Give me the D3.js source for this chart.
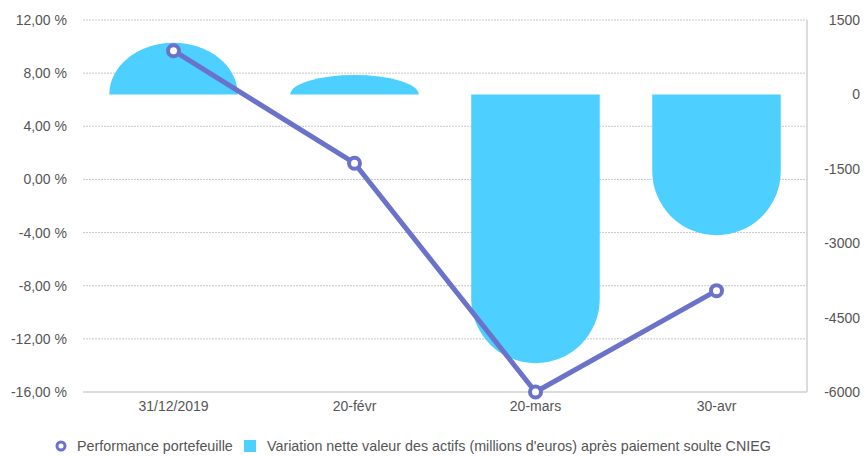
<!DOCTYPE html>
<html>
<head>
<meta charset="utf-8">
<script src="https://cdn.jsdelivr.net/npm/d3@7"></script>
<style>
  body { margin: 0; background: #fff; }
  svg { display: block; font-family: "Liberation Sans", Arial, sans-serif; }
</style>
</head>
<body>
<svg id="chart" width="865" height="456"></svg>
<script>
const categories = ["31/12/2019", "20-févr", "20-mars", "30-avr"];
const performance = [9.69, 1.22, -16.0, -8.37];          // %
const variation = [1040, 390, -5420, -2840];              // millions d'euros
const leftTicks = [12, 8, 4, 0, -4, -8, -12, -16];
const rightTicks = [1500, 0, -1500, -3000, -4500, -6000];
const seriesNames = ["Performance portefeuille", "Variation nette valeur des actifs (millions d'euros) après paiement soulte CNIEG"];

const barColor = "#4dcfff";
const lineColor = "#6b72c9";
const textColor = "#555";
const FONT = "Liberation Sans, Arial, sans-serif";

const svg = d3.select("#chart");
const m = { left: 83, right: 807, top: 20, bottom: 392 };

const x = d3.scaleBand().domain(categories).range([m.left, m.right]).paddingInner(0.29).paddingOuter(0.145);
const xc = d3.scaleBand().domain(categories).range([m.left, m.right]);
const yL = d3.scaleLinear().domain([-16, 12]).range([m.bottom, m.top]);
const yR = d3.scaleLinear().domain([-6000, 1500]).range([m.bottom, m.top]);

// gridlines
svg.append("g").selectAll("line").data(leftTicks.filter(t => t !== -16)).join("line")
  .attr("x1", m.left).attr("x2", m.right)
  .attr("y1", d => yL(d)).attr("y2", d => yL(d))
  .attr("stroke", "#c8c8c8").attr("stroke-width", 1).attr("stroke-dasharray", "2,1");

// axis lines
svg.append("line").attr("x1", m.left).attr("x2", m.right).attr("y1", m.bottom).attr("y2", m.bottom)
  .attr("stroke", "#d0d0d0").attr("stroke-width", 1.5);
svg.append("line").attr("x1", m.right).attr("x2", m.right).attr("y1", m.top).attr("y2", m.bottom)
  .attr("stroke", "#d0d0d0").attr("stroke-width", 1.5);

// left axis
const leftAxis = d3.axisLeft(yL).tickValues(leftTicks).tickSize(0).tickPadding(0)
  .tickFormat(d => d.toFixed(2).replace(".", ",") + " %");
const gl = svg.append("g").attr("transform", `translate(67,0)`).call(leftAxis);
gl.select(".domain").remove();
gl.selectAll("text").attr("fill", textColor).attr("font-size", 14).attr("font-family", FONT);

// right axis
const rightAxis = d3.axisRight(yR).tickValues(rightTicks).tickSize(0).tickPadding(0).tickFormat(d => String(d));
const gr = svg.append("g").attr("transform", `translate(860,0)`).call(rightAxis);
gr.select(".domain").remove();
gr.selectAll("text").attr("fill", textColor).attr("font-size", 14).attr("text-anchor", "end")
  .attr("font-family", FONT);

// x axis
const bottomAxis = d3.axisBottom(xc).tickSize(0).tickPadding(0);
const gb = svg.append("g").attr("transform", `translate(0,${m.bottom + 9})`).call(bottomAxis);
gb.select(".domain").remove();
gb.selectAll("text").attr("fill", textColor).attr("font-size", 14).attr("font-family", FONT);

// bars with rounded far end
function barPath(cat, v) {
  const x0 = x(cat), w = x.bandwidth(), x1 = x0 + w;
  const y0 = yR(0), yv = yR(v);
  const h = Math.abs(yv - y0);
  const rx = w / 2, ry = Math.min(rx, h);
  if (v >= 0) {
    const ys = yv + ry;
    return `M${x0},${y0} L${x0},${ys} A${rx},${ry} 0 0 1 ${x1},${ys} L${x1},${y0} Z`;
  } else {
    const ys = yv - ry;
    return `M${x0},${y0} L${x0},${ys} A${rx},${ry} 0 0 0 ${x1},${ys} L${x1},${y0} Z`;
  }
}
svg.append("g").selectAll("path").data(categories).join("path")
  .attr("d", (c, i) => barPath(c, variation[i]))
  .attr("fill", barColor);

// line
const cx = c => xc(c) + xc.bandwidth() / 2;
const line = d3.line().x((d, i) => cx(categories[i])).y(d => yL(d));
svg.append("path").datum(performance).attr("d", line)
  .attr("fill", "none").attr("stroke", lineColor).attr("stroke-width", 5).attr("stroke-linejoin", "round");
svg.append("g").selectAll("circle").data(performance).join("circle")
  .attr("cx", (d, i) => cx(categories[i])).attr("cy", d => yL(d)).attr("r", 5.5)
  .attr("fill", "#fff").attr("stroke", lineColor).attr("stroke-width", 4);

// legend
const lg = svg.append("g").attr("font-size", 14.3).attr("fill", textColor).attr("font-family", FONT);
lg.append("circle").attr("cx", 61).attr("cy", 446).attr("r", 4).attr("fill", "#fff")
  .attr("stroke", lineColor).attr("stroke-width", 3);
lg.append("text").attr("x", 77).attr("y", 451).text(seriesNames[0]);
lg.append("rect").attr("x", 244).attr("y", 440).attr("width", 12).attr("height", 12).attr("fill", barColor);
lg.append("text").attr("x", 267).attr("y", 451).text(seriesNames[1]);
</script>
</body>
</html>
